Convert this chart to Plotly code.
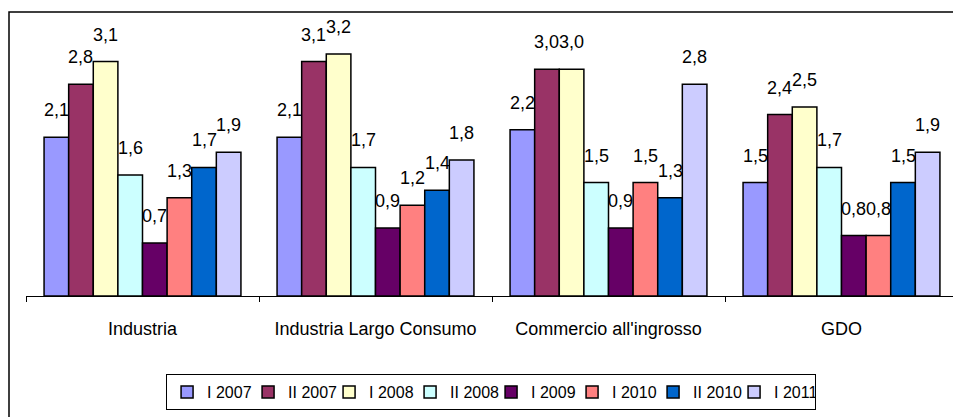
import plotly.graph_objects as go

categories = ["Industria", "Industria Largo Consumo", "Commercio all'ingrosso", "GDO"]
series_names = ["I 2007", "II 2007", "I 2008", "II 2008", "I 2009", "I 2010", "II 2010", "I 2011"]
series_colors = ["#9999FF", "#993366", "#FFFFCC", "#CCFFFF", "#660066", "#FF8080", "#0066CC", "#CCCCFF"]

i_2007 = [2.1, 2.1, 2.2, 1.5]
ii_2007 = [2.8, 3.1, 3.0, 2.4]
i_2008 = [3.1, 3.2, 3.0, 2.5]
ii_2008 = [1.6, 1.7, 1.5, 1.7]
i_2009 = [0.7, 0.9, 0.9, 0.8]
i_2010 = [1.3, 1.2, 1.5, 0.8]
ii_2010 = [1.7, 1.4, 1.3, 1.5]
i_2011 = [1.9, 1.8, 2.8, 1.9]

series_values = [i_2007, ii_2007, i_2008, ii_2008, i_2009, i_2010, ii_2010, i_2011]

FONT = "Liberation Sans, Arial, sans-serif"
# the page body keeps its default 8px margin, so the figure is 8px smaller
W, H = 953, 409
M_L, M_R, M_T, M_B = 18, 3, 12, 121
BARGAP = 0.155

fig = go.Figure()
for name, color, vals in zip(series_names, series_colors, series_values):
    fig.add_trace(go.Bar(
        x=categories,
        y=vals,
        name=name,
        marker=dict(color=color, line=dict(color="black", width=1.5)),
        hoverinfo="skip",
    ))

# data labels, sitting a bit above each bar like the Excel original
plot_w = W - M_L - M_R
plot_h = H - M_T - M_B
bar_px = plot_w / len(categories) * (1 - BARGAP) / len(series_names)
n = len(series_names)
for i, vals in enumerate(series_values):
    for cat, v in zip(categories, vals):
        fig.add_annotation(
            x=cat, y=v,
            text=f"{v:.1f}".replace(".", ","),
            showarrow=False,
            xshift=(i - (n - 1) / 2) * bar_px,
            yshift=15,
            yanchor="bottom",
            font=dict(size=18, color="black", family=FONT),
        )

# outer chart frame (runs off the right and bottom edges)
fig.add_shape(
    type="rect", xref="paper", yref="paper",
    x0=(1 - M_L) / plot_w, x1=1.1,
    y0=-1, y1=1 + (M_T - 4) / plot_h,
    line=dict(color="black", width=1.5),
    fillcolor="rgba(0,0,0,0)",
    layer="below",
)

fig.update_layout(
    width=W, height=H,
    margin=dict(l=M_L, r=M_R, t=M_T, b=M_B),
    paper_bgcolor="white",
    plot_bgcolor="white",
    barmode="group",
    bargap=BARGAP,
    bargroupgap=0,
    font=dict(family=FONT, size=18, color="black"),
    showlegend=True,
    legend=dict(
        orientation="h",
        x=0.499, xanchor="center",
        y=-(366 - (H - M_B)) / plot_h, yanchor="top",
        bordercolor="black", borderwidth=1,
        bgcolor="white",
        font=dict(size=16, family=FONT),
        entrywidth=36, entrywidthmode="pixels",
        itemclick=False,
    ),
    xaxis=dict(
        showline=True, linecolor="black", linewidth=1,
        ticks="outside", tickson="boundaries", ticklen=5, tickcolor="black",
        tickfont=dict(size=18, family=FONT),
        tickangle=0,
        ticklabelstandoff=16,
        showgrid=False,
    ),
    yaxis=dict(
        range=[0, 3.65],
        visible=False,
        showgrid=False,
    ),
)

fig.write_html("out.html")
